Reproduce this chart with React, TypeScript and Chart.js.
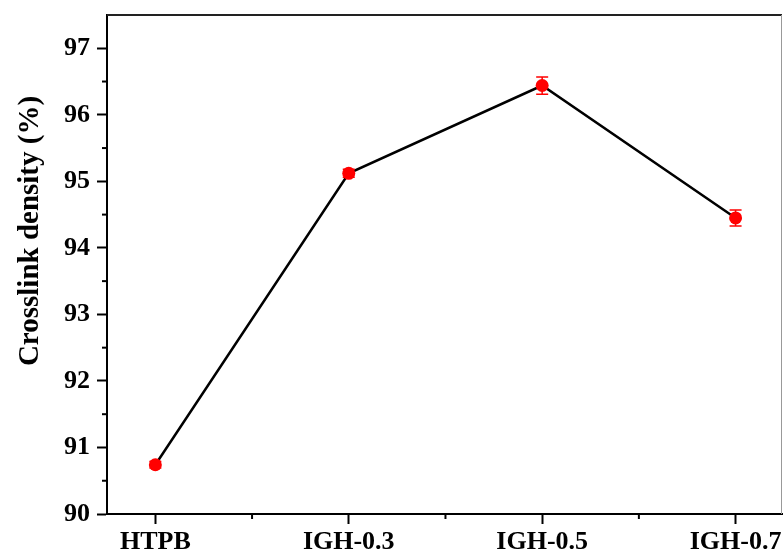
import React, { useEffect, useRef } from "react";
import { Chart, registerables } from "chart.js";

Chart.register(...registerables);

const categories = ["HTPB", "IGH-0.3", "IGH-0.5", "IGH-0.7"];
const values = [90.74, 95.12, 96.44, 94.45];
const errors = [0.05, 0.06, 0.13, 0.12];
const yMajorTicks = [90, 91, 92, 93, 94, 95, 96, 97];
const yMinorTicks = [90.5, 91.5, 92.5, 93.5, 94.5, 95.5, 96.5];
const xMajorTicks = [0, 1, 2, 3];
const xMinorTicks = [0.5, 1.5, 2.5];
const yTitle = "Crosslink density (%)";

const FONT = "'Liberation Serif', 'Times New Roman', serif";

const decorPlugin = {
  id: "decor",
  afterDraw(chart: any) {
    const { ctx, chartArea, scales } = chart;
    const xs = scales.x;
    const ys = scales.y;
    ctx.save();
    ctx.strokeStyle = "#222";
    ctx.lineWidth = 2;
    ctx.beginPath();
    ctx.moveTo(chartArea.left, chartArea.top);
    ctx.lineTo(chartArea.right, chartArea.top);
    ctx.stroke();
    ctx.strokeStyle = "#999";
    ctx.lineWidth = 1;
    ctx.beginPath();
    ctx.moveTo(chartArea.right - 0.5, chartArea.top);
    ctx.lineTo(chartArea.right - 0.5, chartArea.bottom);
    ctx.stroke();
    ctx.strokeStyle = "#000";
    ctx.lineWidth = 2;
    yMinorTicks.forEach((v) => {
      const y = ys.getPixelForValue(v);
      ctx.beginPath();
      ctx.moveTo(chartArea.left - 5, y);
      ctx.lineTo(chartArea.left, y);
      ctx.stroke();
    });
    xMinorTicks.forEach((v) => {
      const x = xs.getPixelForValue(v);
      ctx.beginPath();
      ctx.moveTo(x, chartArea.bottom);
      ctx.lineTo(x, chartArea.bottom + 5);
      ctx.stroke();
    });
    ctx.fillStyle = "#000";
    ctx.font = `bold 29px ${FONT}`;
    ctx.textAlign = "center";
    ctx.textBaseline = "middle";
    ctx.translate(31, 231);
    ctx.rotate(-Math.PI / 2);
    ctx.fillText(yTitle, 0, 0);
    ctx.restore();
  },
  afterDatasetsDraw(chart: any) {
    const { ctx, scales } = chart;
    const xs = scales.x;
    const ys = scales.y;
    ctx.save();
    ctx.strokeStyle = "#ff0000";
    ctx.lineWidth = 1.5;
    values.forEach((v, i) => {
      const x = xs.getPixelForValue(i);
      const y1 = ys.getPixelForValue(v + errors[i]);
      const y2 = ys.getPixelForValue(v - errors[i]);
      ctx.beginPath();
      ctx.moveTo(x, y1);
      ctx.lineTo(x, y2);
      ctx.moveTo(x - 6, y1);
      ctx.lineTo(x + 6, y1);
      ctx.moveTo(x - 6, y2);
      ctx.lineTo(x + 6, y2);
      ctx.stroke();
    });
    ctx.restore();
  },
};

export default function App() {
  const ref = useRef<HTMLCanvasElement | null>(null);
  useEffect(() => {
    if (!ref.current) return;
    const chart = new Chart(ref.current, {
      type: "scatter",
      data: {
        datasets: [
          {
            data: values.map((v, i) => ({ x: i, y: v })),
            showLine: true,
            borderColor: "#000",
            borderWidth: 2.5,
            pointBackgroundColor: "#ff0000",
            pointBorderColor: "#ff0000",
            pointRadius: 6.5,
            pointBorderWidth: 0,
          },
        ],
      },
      options: {
        animation: false,
        responsive: false,
        layout: { autoPadding: false, padding: { top: 15, right: 1, left: 0, bottom: 0 } },
        plugins: { legend: { display: false }, tooltip: { enabled: false } },
        scales: {
          x: {
            type: "linear",
            min: -0.25,
            max: 3.24,
            afterBuildTicks: (s: any) => {
              s.ticks = xMajorTicks.map((v) => ({ value: v }));
            },
            afterFit: (s: any) => {
              s.height = 42;
              s.paddingLeft = 0;
              s.paddingRight = 0;
            },
            grid: {
              drawOnChartArea: false,
              drawTicks: true,
              tickLength: 10,
              tickWidth: 2,
              tickColor: "#000",
            },
            border: { color: "#000", width: 2 },
            ticks: {
              padding: 3,
              color: "#000",
              font: { family: FONT, size: 26, weight: "bold" },
              callback: (v: any) => categories[v] ?? "",
              maxRotation: 0,
              autoSkip: false,
            },
          },
          y: {
            type: "linear",
            min: 90,
            max: 97.5,
            afterBuildTicks: (s: any) => {
              s.ticks = yMajorTicks.map((v) => ({ value: v }));
            },
            afterFit: (s: any) => {
              s.width = 107;
              s.paddingTop = 0;
              s.paddingBottom = 0;
            },
            grid: {
              drawOnChartArea: false,
              drawTicks: true,
              tickLength: 10,
              tickWidth: 2,
              tickColor: "#000",
            },
            border: { color: "#000", width: 2 },
            ticks: {
              padding: 7,
              color: "#000",
              font: { family: FONT, size: 26, weight: "bold" },
              autoSkip: false,
            },
          },
        },
      },
      plugins: [decorPlugin],
    } as any);
    return () => chart.destroy();
  }, []);
  return (
    <div style={{ position: "absolute", left: 0, top: 0, width: 783, height: 556, background: "#fff" }}>
      <canvas ref={ref} width={783} height={556} style={{ width: 783, height: 556, display: "block" }} />
    </div>
  );
}
